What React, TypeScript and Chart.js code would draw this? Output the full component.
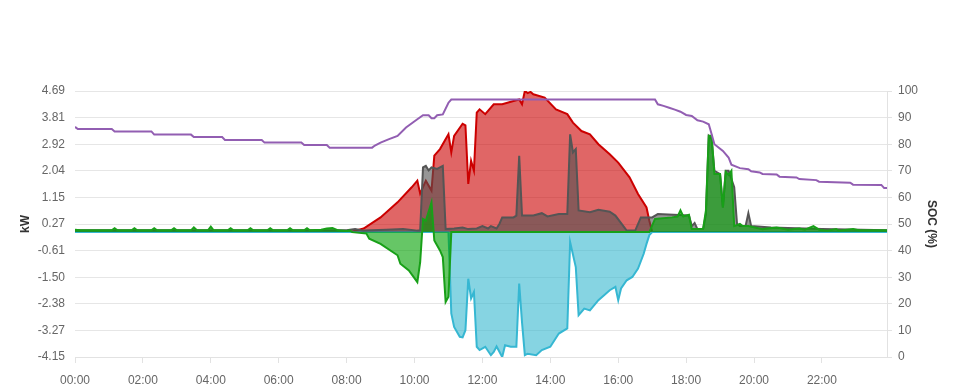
import React, { useEffect, useRef } from "react";
import { Chart, registerables } from "chart.js";
Chart.register(...registerables);

// ---- data (times "HH:MM") ----
const xTickLabels = ["00:00","02:00","04:00","06:00","08:00","10:00","12:00","14:00","16:00","18:00","20:00","22:00"];
const xMaxTime = "23:55";

const socTimes = ["00:00","00:05","01:05","01:10","02:15","02:20","03:25","03:30","04:20","04:25","05:30","05:35","06:40","06:45","07:25","07:30","08:45","08:50","09:00","09:15","09:30","09:45","10:05","10:15","10:25","10:30","10:35","10:40","10:50","11:00","11:05","17:05","17:10","17:20","17:30","17:40","17:50","18:00","18:10","18:20","18:30","18:40","18:45","18:50","19:05","19:15","19:20","19:35","19:50","19:55","20:10","20:15","20:40","20:45","21:15","21:20","21:50","21:55","22:50","22:55","23:45","23:50","23:55"];
const socValues = [86.5,85.7,85.7,84.8,84.8,83.6,83.6,82.7,82.7,81.6,81.6,80.6,80.6,79.7,79.7,78.7,78.7,79.5,80.6,81.9,83.1,86.3,89.4,90.9,90.9,89.8,89.8,90.9,91.2,95.6,96.8,96.8,95,94.4,93.7,93,92.2,91,90.6,89,88.5,87.5,83.8,80,77.5,75,72.3,71,70.6,69.8,69.4,68.8,68.6,67.8,67.5,66.9,66.5,65.9,65.5,64.8,64.7,63.5,63.5];

const gridTimes = ["00:00","00:10","01:05","01:10","01:15","01:40","01:45","01:50","02:15","02:20","02:25","02:50","02:55","03:00","03:25","03:30","03:35","03:55","04:00","04:05","04:30","04:35","04:40","05:05","05:10","05:15","05:40","05:45","05:50","06:15","06:20","06:25","06:45","06:50","06:55","07:15","07:25","07:35","07:45","08:00","08:05","08:10","08:35","08:40","09:00","09:30","09:35","09:50","10:05","10:10","10:15","10:20","10:30","10:35","10:45","10:50","10:55","11:00","11:05","16:55","17:05","17:35","17:45","17:50","17:55","18:05","18:10","18:30","18:35","18:40","18:45","18:50","19:00","19:05","19:10","19:15","19:20","19:25","19:35","19:40","19:50","20:15","20:40","21:00","21:20","21:30","21:45","21:55","22:10","22:25","22:30","22:55","23:05","23:55"];
const gridKw = [0.08,0.06,0.06,0.13,0.06,0.06,0.13,0.06,0.06,0.13,0.06,0.06,0.13,0.06,0.06,0.16,0.07,0.06,0.18,0.06,0.06,0.13,0.06,0.06,0.13,0.06,0.06,0.13,0.06,0.06,0.13,0.06,0.06,0.13,0.06,0.08,0.12,0.14,0.06,0.04,0.06,0,-0.05,-0.22,-0.39,-0.77,-1.05,-1.27,-1.66,-1.0,0.44,0.38,0.99,-0.28,-0.61,-0.83,-2.32,-2.15,0,0,0.44,0.49,0.52,0.72,0.52,0.58,0.1,0.1,0.72,3.2,3.2,1.93,1.93,0.82,2.0,1.9,2.04,0.2,0.27,0.2,0.2,0.1,0.15,0.08,0.12,0.08,0.2,0.08,0.05,0.1,0.05,0.1,0.06,0.06];

const loadTimes = ["00:00","08:00","08:15","08:30","09:10","09:40","10:05","10:10","10:15","10:20","10:25","10:30","10:40","10:50","10:55","11:10","11:25","11:35","11:50","12:00","12:10","12:15","12:25","12:30","12:35","12:55","13:00","13:05","13:10","13:30","13:45","13:55","14:15","14:30","14:35","14:40","14:45","14:50","15:10","15:25","15:45","15:55","16:15","16:30","16:40","17:00","17:10","18:05","18:10","18:15","18:20","18:30","18:35","18:40","18:45","18:50","19:00","19:05","19:10","19:15","19:25","19:30","19:35","19:45","19:50","19:55","20:30","22:00","23:55"];
const loadKw = [0.06,0.06,0.1,0.05,0.08,0.1,0.05,0.05,2.15,2.2,2.05,2.15,2.1,2.2,0.1,0.12,0.15,0.1,0.12,0.2,0.12,0.2,0.12,0.27,0.49,0.49,0.55,2.54,0.55,0.55,0.63,0.52,0.6,0.6,3.25,2.65,2.76,0.72,0.66,0.74,0.68,0.55,0.05,0.05,0.49,0.49,0.6,0.55,0.2,0.3,0.1,0.1,0.6,3.2,3.1,2.04,1.93,0.82,2.04,2.04,1.49,0.27,0.2,0.2,0.63,0.2,0.15,0.1,0.06];

const batteryTimes = ["00:00","11:00","11:05","11:10","11:20","11:25","11:30","11:35","11:40","11:45","11:50","11:55","12:05","12:15","12:20","12:25","12:35","12:40","12:50","13:00","13:05","13:10","13:15","13:20","13:35","13:45","14:00","14:15","14:30","14:35","14:45","14:50","15:00","15:10","15:25","15:45","15:55","16:00","16:05","16:15","16:25","16:35","16:45","16:50","16:55","17:00","23:55"];
const batteryKw = [0,0,-2.7,-3.15,-3.48,-3.5,-3.26,-1.55,-2.2,-1.99,-3.81,-3.92,-3.81,-4.09,-3.98,-3.8,-4.15,-3.76,-3.81,-3.81,-1.71,-3.0,-4.09,-4.04,-4.09,-3.92,-3.81,-3.37,-3.2,-0.33,-1.16,-2.76,-2.54,-2.6,-2.26,-1.93,-1.82,-2.26,-1.87,-1.6,-1.49,-1.21,-0.72,-0.39,-0.1,0,0];

const pvTimes = ["00:00","08:05","08:30","09:00","09:30","09:55","10:05","10:10","10:20","10:30","10:35","10:45","11:00","11:05","11:10","11:25","11:30","11:35","11:40","11:45","11:50","11:55","12:05","12:20","12:35","12:55","13:05","13:10","13:15","13:20","13:25","13:30","13:50","14:10","14:30","14:40","14:55","15:10","15:25","15:45","16:00","16:20","16:35","16:50","16:55","17:00","23:55"];
const pvKw = [0,0,0.12,0.49,0.99,1.49,1.71,1.28,1.71,1.38,2.54,2.76,3.25,2.65,3.2,3.6,3.55,1.6,2.37,2.04,3.97,4.08,3.92,4.25,4.25,4.36,4.41,4.25,4.69,4.62,4.66,4.58,4.47,4.08,3.92,3.64,3.36,3.25,2.92,2.59,2.31,1.82,1.27,0.82,0.38,0,0];

const kwMin = -4.15;
const kwMax = 4.69;
const socMin = 0;
const socMax = 100;

// ---- helpers ----
const toMin = (t: string) => {
  const [h, m] = t.split(":").map(Number);
  return h * 60 + m;
};
const fmtTime = (v: number) => {
  const h = Math.floor(v / 60);
  const m = Math.round(v % 60);
  return String(h).padStart(2, "0") + ":" + String(m).padStart(2, "0");
};
const pts = (times: string[], vals: number[]) =>
  times.map((t, i) => ({ x: toMin(t), y: vals[i] }));

const FONT = "'Liberation Sans', Arial, Helvetica, sans-serif";

export default function App() {
  const ref = useRef<HTMLCanvasElement | null>(null);

  useEffect(() => {
    if (!ref.current) return;
    const line = {
      pointRadius: 0,
      borderWidth: 2,
      tension: 0,
    };
    const chart = new Chart(ref.current, {
      type: "line",
      data: {
        datasets: [
          {
            ...line,
            label: "SOC",
            data: pts(socTimes, socValues),
            yAxisID: "soc",
            borderColor: "rgb(146,94,178)",
            backgroundColor: "rgb(146,94,178)",
            fill: false,
          },
          {
            ...line,
            label: "Grid",
            data: pts(gridTimes, gridKw),
            yAxisID: "kw",
            borderColor: "rgb(24,160,24)",
            backgroundColor: "rgba(0,160,0,0.6)",
            fill: "origin",
          },
          {
            ...line,
            label: "Load",
            data: pts(loadTimes, loadKw),
            yAxisID: "kw",
            borderColor: "rgb(85,85,85)",
            backgroundColor: "rgba(80,80,80,0.6)",
            fill: "origin",
          },
          {
            ...line,
            label: "Battery",
            data: pts(batteryTimes, batteryKw),
            yAxisID: "kw",
            borderColor: "rgb(54,183,210)",
            backgroundColor: "rgba(54,183,206,0.6)",
            fill: "origin",
          },
          {
            ...line,
            label: "PV",
            data: pts(pvTimes, pvKw),
            yAxisID: "kw",
            borderColor: "rgb(204,0,0)",
            backgroundColor: "rgba(204,0,0,0.6)",
            fill: "origin",
          },
        ],
      },
      options: {
        animation: false,
        responsive: true,
        maintainAspectRatio: false,
        layout: { padding: { top: 91, left: 14, right: 17, bottom: 0 } },
        plugins: {
          legend: { display: false },
          tooltip: { enabled: false },
        },
        scales: {
          x: {
            type: "linear",
            min: 0,
            max: toMin(xMaxTime),
            afterBuildTicks: (scale: any) => {
              scale.ticks = xTickLabels.map((t) => ({ value: toMin(t) }));
            },
            afterFit: (scale: any) => {
              scale.height = 33;
            },
            grid: {
              drawOnChartArea: false,
              tickLength: 6,
              color: "#e2e2e2",
            },
            border: { display: true, color: "#e2e2e2" },
            ticks: {
              autoSkip: false,
              maxRotation: 0,
              padding: 10,
              color: "#666",
              font: { family: FONT, size: 12 },
              callback: (v: any) => fmtTime(Number(v)),
            },
          },
          kw: {
            type: "linear",
            position: "left",
            min: kwMin,
            max: kwMax,
            afterFit: (scale: any) => {
              scale.width = 61;
            },
            grid: { color: "#e6e6e6", drawTicks: false, lineWidth: 1 },
            border: { display: false },
            ticks: {
              count: 11,
              padding: 10,
              color: "#666",
              font: { family: FONT, size: 12 },
              callback: (v: any) => Number(v).toFixed(2),
            },
            title: {
              display: true,
              text: "kW",
              color: "#333",
              font: { family: FONT, size: 12, weight: "bold" },
            },
          },
          soc: {
            type: "linear",
            position: "right",
            min: socMin,
            max: socMax,
            afterFit: (scale: any) => {
              scale.width = 56;
            },
            grid: { drawOnChartArea: false, tickLength: 5, color: "#e2e2e2" },
            border: { display: true, color: "#e2e2e2" },
            ticks: {
              count: 11,
              padding: 6,
              color: "#666",
              font: { family: FONT, size: 12 },
            },
            title: {
              display: true,
              text: "SOC (%)",
              color: "#333",
              font: { family: FONT, size: 12, weight: "bold" },
            },
          },
        },
      },
    } as any);
    return () => chart.destroy();
  }, []);

  return (
    <div style={{ position: "absolute", left: 0, top: 0, width: 960, height: 390 }}>
      <canvas ref={ref} />
    </div>
  );
}
